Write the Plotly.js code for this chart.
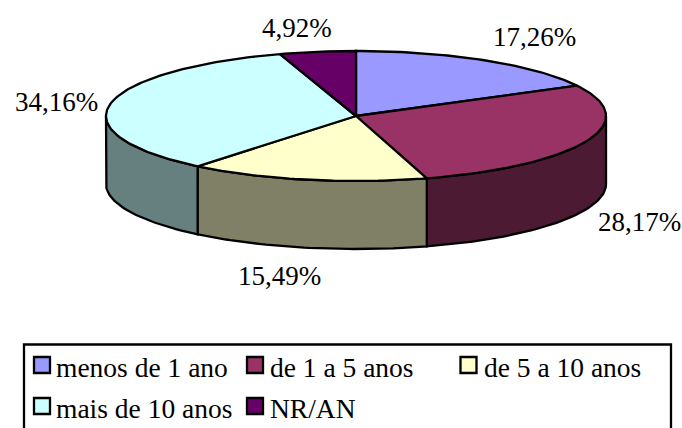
<!DOCTYPE html>
<html><head><meta charset="utf-8">
<script src="https://cdn.plot.ly/plotly-3.0.1.min.js"></script>
<style>html,body{margin:0;padding:0;background:#fff}#c{width:682px;height:428px}</style>
</head><body><div id="c"></div>
<script>
const categories = ['menos de 1 ano','de 1 a 5 anos','de 5 a 10 anos','mais de 10 anos','NR/AN'];
const percentages = [17.26,28.17,15.49,34.16,4.92];
const topColors = ['#9999FF','#993366','#FFFFCC','#CCFFFF','#660066'];
const sideColors = ['#4D4D80','#4D1A33','#808066','#668080','#330033'];

// pie geometry, in page pixels (axes map 1:1 onto the page)
const cx=356, cy=116, rx=250, ry=65, depth=68, lw=2.3;
const labelAnchors=[[534.5,37],[639,222],[279,276],[56,102],[297,28]];
const legendSlots=[[42,365],[255,365],[468.5,365],[42,406],[255,406]];
const legendTextX=[57,271,485,57,271];
const fs=27, legendFs=27.5;
const family='Liberation Serif';

const rim=(a,dz=0)=>[cx+rx*Math.sin(a), cy-ry*Math.cos(a)+dz];
function arc(a0,a1,dz=0){
  const n=Math.max(2,Math.ceil(Math.abs(a1-a0)/0.02)), pts=[];
  for(let i=0;i<=n;i++) pts.push(rim(a0+(a1-a0)*i/n,dz));
  return pts;
}
const poly=(pts,fill)=>({
  type:'scatter',mode:'lines',x:pts.map(p=>p[0]),y:pts.map(p=>p[1]),
  fill:'toself',fillcolor:fill,line:{color:'#000',width:lw},hoverinfo:'skip',showlegend:false});

const total=percentages.reduce((a,b)=>a+b,0);
let cum=0; const spans=percentages.map(v=>{const s=[cum/total*2*Math.PI,(cum+v)/total*2*Math.PI];cum+=v;return s;});

const sides=[],tops=[];
spans.forEach((s,i)=>{
  const a0=Math.max(s[0],Math.PI/2), a1=Math.min(s[1],1.5*Math.PI);
  if(a1>a0){
    const pts=arc(a0,a1).concat(arc(a1,a0,depth)); pts.push(pts[0]);
    sides.push(poly(pts,sideColors[i]));
  }
  const pts=[[cx,cy]].concat(arc(s[0],s[1])); pts.push([cx,cy]);
  tops.push(poly(pts,topColors[i]));
});

const legendMarks={type:'scatter',mode:'markers',
  x:legendSlots.map(p=>p[0]),y:legendSlots.map(p=>p[1]),
  marker:{symbol:'square',size:16,color:topColors,line:{color:'#000',width:2.3}},
  hoverinfo:'skip',showlegend:false};

const labelFont={family:family,size:fs,color:'#000'};
const legendFont={family:family,size:legendFs,color:'#000'};
const annotations=percentages.map((v,i)=>({
  x:labelAnchors[i][0],y:labelAnchors[i][1],xref:'x',yref:'y',showarrow:false,
  text:v.toFixed(2).replace('.',',')+'%',font:labelFont,xanchor:'center',yanchor:'middle'
})).concat(categories.map((c,i)=>({
  x:legendTextX[i],y:legendSlots[i][1]+2,xref:'x',yref:'y',showarrow:false,
  text:c,font:legendFont,xanchor:'left',yanchor:'middle',xshift:-3
})));

Plotly.newPlot('c',sides.concat(tops,[legendMarks]),{
  width:682,height:428,margin:{l:0,r:0,t:0,b:0},
  font:{family:family},
  paper_bgcolor:'#fff',plot_bgcolor:'#fff',showlegend:false,
  xaxis:{range:[0,682],visible:false,fixedrange:true},
  yaxis:{range:[428,0],visible:false,fixedrange:true},
  annotations,
  shapes:[{type:'rect',xref:'x',yref:'y',x0:24,x1:671,y0:344.5,y1:440,line:{color:'#000',width:2.3},layer:'below'}]
},{staticPlot:true,displayModeBar:false});
</script></body></html>
